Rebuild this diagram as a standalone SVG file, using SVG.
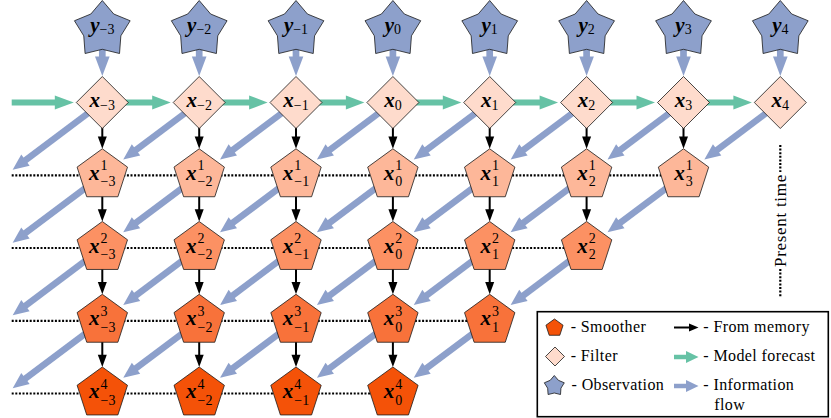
<svg xmlns="http://www.w3.org/2000/svg" width="831" height="418" viewBox="0 0 831 418">
<style>
.m{font-family:"Liberation Serif",serif;font-weight:bold;font-style:italic;font-size:21px;fill:#000}
.s{font-family:"Liberation Serif",serif;font-weight:normal;font-style:normal;font-size:14px;fill:#000}
.lg{font-family:"Liberation Serif",serif;font-size:16px;letter-spacing:0.4px;fill:#000}
.pt{font-family:"Liberation Serif",serif;font-size:17px;letter-spacing:0.7px;fill:#000}
.star{fill:#8DA0CB;stroke:#1a1a1a;stroke-width:0.8}
.dia{fill:#FEDBCC;stroke:#1a1a1a;stroke-width:0.8}
.pen{stroke:#1a1a1a;stroke-width:0.8}
.p1{fill:#FDB799}.p2{fill:#FC9163}.p3{fill:#F8723A}.p4{fill:#F45208}
.dot{stroke:#000;stroke-width:2.2;stroke-dasharray:2 1.6;fill:none}
.bl{stroke:#8DA0CB;fill:none}
.bh{fill:#8DA0CB}
.gr{stroke:#66C2A5;fill:none}
.gh{fill:#66C2A5}
.k{stroke:#000;stroke-width:2;fill:none}
.kh{fill:#000}
</style>
<defs>
<polygon id="starS" points="0,-29.3 11.46,-15.78 27.87,-9.05 18.55,6.03 17.22,23.7 0,19.5 -17.22,23.7 -18.55,6.03 -27.87,-9.05 -11.46,-15.78"/>
<polygon id="diaS" points="0,-26 26,0 0,26 -26,0"/>
<polygon id="penS" points="0,-26.5 25.2,-8.19 15.58,21.44 -15.58,21.44 -25.2,-8.19"/>
<g id="aStar"><line class="bl" x1="0" y1="10" x2="0" y2="27.5" stroke-width="6.7"/><polygon class="bh" points="-7.3,26.7 7.3,26.7 0,46.2"/></g>
<g id="aGreen"><line class="gr" x1="0" y1="0" x2="51" y2="0" stroke-width="6"/><polygon class="gh" points="49.9,-7 49.9,7 68.4,0"/></g>
<g id="aDiag"><line class="bl" x1="0" y1="0" x2="-64.77" y2="48.65" stroke-width="6.5"/><polygon class="bh" points="-58.97,53.05 -67.37,41.85 -75.96,57.06"/></g>
<g id="aOff"><line class="bl" x1="0" y1="0" x2="-78.36" y2="58.86" stroke-width="6.5"/><polygon class="bh" points="-72.64,63.32 -81.04,52.12 -89.64,67.33"/></g>
<g id="aBlack"><line class="k" x1="0" y1="0" x2="0" y2="35"/><polygon class="kh" points="-4.5,34 4.5,34 0,46.3"/></g>
</defs>

<g id="connectors">
<g id="dotted">
<line class="dot" x1="11.7" y1="175.3" x2="683.5" y2="175.3"/>
<line class="dot" x1="11.7" y1="248" x2="586.6" y2="248"/>
<line class="dot" x1="11.7" y1="320.8" x2="489.7" y2="320.8"/>
<line class="dot" x1="11.7" y1="393.5" x2="392.9" y2="393.5"/>
<line class="dot" x1="780.3" y1="145" x2="780.3" y2="172"/>
<line class="dot" x1="780.3" y1="269" x2="780.3" y2="297"/>
</g>
<g id="obs-arrows">
<use href="#aStar" x="102.3" y="29.8"/><use href="#aStar" x="199.2" y="29.8"/><use href="#aStar" x="296" y="29.8"/><use href="#aStar" x="392.9" y="29.8"/>
<use href="#aStar" x="489.7" y="29.8"/><use href="#aStar" x="586.6" y="29.8"/><use href="#aStar" x="683.5" y="29.8"/><use href="#aStar" x="780.3" y="29.8"/>
</g>
<g id="forecast-arrows">
<line class="gr" x1="11.7" y1="102.5" x2="56" y2="102.5" stroke-width="6"/><polygon class="gh" points="54.8,95.5 54.8,109.5 73.8,102.5"/>
<use href="#aGreen" x="102.3" y="102.5"/><use href="#aGreen" x="199.2" y="102.5"/><use href="#aGreen" x="296" y="102.5"/><use href="#aGreen" x="392.9" y="102.5"/>
<use href="#aGreen" x="489.7" y="102.5"/><use href="#aGreen" x="586.6" y="102.5"/><use href="#aGreen" x="683.5" y="102.5"/>
</g>
<g id="info-arrows">
<use href="#aOff" x="102.3" y="102.5"/><use href="#aDiag" x="199.2" y="102.5"/><use href="#aDiag" x="296" y="102.5"/><use href="#aDiag" x="392.9" y="102.5"/>
<use href="#aDiag" x="489.7" y="102.5"/><use href="#aDiag" x="586.6" y="102.5"/><use href="#aDiag" x="683.5" y="102.5"/><use href="#aDiag" x="780.3" y="102.5"/>
<use href="#aOff" x="102.3" y="175.3"/><use href="#aDiag" x="199.2" y="175.3"/><use href="#aDiag" x="296" y="175.3"/><use href="#aDiag" x="392.9" y="175.3"/>
<use href="#aDiag" x="489.7" y="175.3"/><use href="#aDiag" x="586.6" y="175.3"/><use href="#aDiag" x="683.5" y="175.3"/>
<use href="#aOff" x="102.3" y="248"/><use href="#aDiag" x="199.2" y="248"/><use href="#aDiag" x="296" y="248"/><use href="#aDiag" x="392.9" y="248"/>
<use href="#aDiag" x="489.7" y="248"/><use href="#aDiag" x="586.6" y="248"/>
<use href="#aOff" x="102.3" y="320.8"/><use href="#aDiag" x="199.2" y="320.8"/><use href="#aDiag" x="296" y="320.8"/><use href="#aDiag" x="392.9" y="320.8"/>
<use href="#aDiag" x="489.7" y="320.8"/>
</g>
<g id="memory-arrows">
<use href="#aBlack" x="102.3" y="102.5"/><use href="#aBlack" x="199.2" y="102.5"/><use href="#aBlack" x="296" y="102.5"/><use href="#aBlack" x="392.9" y="102.5"/>
<use href="#aBlack" x="489.7" y="102.5"/><use href="#aBlack" x="586.6" y="102.5"/><use href="#aBlack" x="683.5" y="102.5"/>
<use href="#aBlack" x="102.3" y="175.3"/><use href="#aBlack" x="199.2" y="175.3"/><use href="#aBlack" x="296" y="175.3"/><use href="#aBlack" x="392.9" y="175.3"/>
<use href="#aBlack" x="489.7" y="175.3"/><use href="#aBlack" x="586.6" y="175.3"/>
<use href="#aBlack" x="102.3" y="248"/><use href="#aBlack" x="199.2" y="248"/><use href="#aBlack" x="296" y="248"/><use href="#aBlack" x="392.9" y="248"/>
<use href="#aBlack" x="489.7" y="248"/>
<use href="#aBlack" x="102.3" y="320.8"/><use href="#aBlack" x="199.2" y="320.8"/><use href="#aBlack" x="296" y="320.8"/><use href="#aBlack" x="392.9" y="320.8"/>
</g>
</g>

<g id="present-time"><text class="pt" transform="translate(786,220.5) rotate(-90)" text-anchor="middle">Present time</text></g>

<!-- observations -->
<g id="y_m3" transform="translate(102.3,29.8)"><use href="#starS" class="star"/><text class="m" y="2" text-anchor="middle">y<tspan class="s" dy="2.5">−3</tspan></text></g>
<g id="y_m2" transform="translate(199.2,29.8)"><use href="#starS" class="star"/><text class="m" y="2" text-anchor="middle">y<tspan class="s" dy="2.5">−2</tspan></text></g>
<g id="y_m1" transform="translate(296,29.8)"><use href="#starS" class="star"/><text class="m" y="2" text-anchor="middle">y<tspan class="s" dy="2.5">−1</tspan></text></g>
<g id="y_0" transform="translate(392.9,29.8)"><use href="#starS" class="star"/><text class="m" y="2" text-anchor="middle">y<tspan class="s" dy="2.5">0</tspan></text></g>
<g id="y_1" transform="translate(489.7,29.8)"><use href="#starS" class="star"/><text class="m" y="2" text-anchor="middle">y<tspan class="s" dy="2.5">1</tspan></text></g>
<g id="y_2" transform="translate(586.6,29.8)"><use href="#starS" class="star"/><text class="m" y="2" text-anchor="middle">y<tspan class="s" dy="2.5">2</tspan></text></g>
<g id="y_3" transform="translate(683.5,29.8)"><use href="#starS" class="star"/><text class="m" y="2" text-anchor="middle">y<tspan class="s" dy="2.5">3</tspan></text></g>
<g id="y_4" transform="translate(780.3,29.8)"><use href="#starS" class="star"/><text class="m" y="2" text-anchor="middle">y<tspan class="s" dy="2.5">4</tspan></text></g>

<!-- filter -->
<g id="x_m3" transform="translate(102.3,102.5)"><use href="#diaS" class="dia"/><text class="m" y="4.5" text-anchor="middle">x<tspan class="s" dy="3">−3</tspan></text></g>
<g id="x_m2" transform="translate(199.2,102.5)"><use href="#diaS" class="dia"/><text class="m" y="4.5" text-anchor="middle">x<tspan class="s" dy="3">−2</tspan></text></g>
<g id="x_m1" transform="translate(296,102.5)"><use href="#diaS" class="dia"/><text class="m" y="4.5" text-anchor="middle">x<tspan class="s" dy="3">−1</tspan></text></g>
<g id="x_0" transform="translate(392.9,102.5)"><use href="#diaS" class="dia"/><text class="m" y="4.5" text-anchor="middle">x<tspan class="s" dy="3">0</tspan></text></g>
<g id="x_1" transform="translate(489.7,102.5)"><use href="#diaS" class="dia"/><text class="m" y="4.5" text-anchor="middle">x<tspan class="s" dy="3">1</tspan></text></g>
<g id="x_2" transform="translate(586.6,102.5)"><use href="#diaS" class="dia"/><text class="m" y="4.5" text-anchor="middle">x<tspan class="s" dy="3">2</tspan></text></g>
<g id="x_3" transform="translate(683.5,102.5)"><use href="#diaS" class="dia"/><text class="m" y="4.5" text-anchor="middle">x<tspan class="s" dy="3">3</tspan></text></g>
<g id="x_4" transform="translate(780.3,102.5)"><use href="#diaS" class="dia"/><text class="m" y="4.5" text-anchor="middle">x<tspan class="s" dy="3">4</tspan></text></g>

<!-- smoother iteration 1 -->
<g id="x1_m3" transform="translate(102.3,175.3)"><use href="#penS" class="pen p1"/><text class="m" x="-2.7" y="4.5" text-anchor="end">x</text><text class="s" x="-1.7" y="-5">1</text><text class="s" x="-1.7" y="11">−3</text></g>
<g id="x1_m2" transform="translate(199.2,175.3)"><use href="#penS" class="pen p1"/><text class="m" x="-2.7" y="4.5" text-anchor="end">x</text><text class="s" x="-1.7" y="-5">1</text><text class="s" x="-1.7" y="11">−2</text></g>
<g id="x1_m1" transform="translate(296,175.3)"><use href="#penS" class="pen p1"/><text class="m" x="-2.7" y="4.5" text-anchor="end">x</text><text class="s" x="-1.7" y="-5">1</text><text class="s" x="-1.7" y="11">−1</text></g>
<g id="x1_0" transform="translate(392.9,175.3)"><use href="#penS" class="pen p1"/><text class="m" x="1.25" y="4.5" text-anchor="end">x</text><text class="s" x="2.25" y="-5">1</text><text class="s" x="2.25" y="11">0</text></g>
<g id="x1_1" transform="translate(489.7,175.3)"><use href="#penS" class="pen p1"/><text class="m" x="1.25" y="4.5" text-anchor="end">x</text><text class="s" x="2.25" y="-5">1</text><text class="s" x="2.25" y="11">1</text></g>
<g id="x1_2" transform="translate(586.6,175.3)"><use href="#penS" class="pen p1"/><text class="m" x="1.25" y="4.5" text-anchor="end">x</text><text class="s" x="2.25" y="-5">1</text><text class="s" x="2.25" y="11">2</text></g>
<g id="x1_3" transform="translate(683.5,175.3)"><use href="#penS" class="pen p1"/><text class="m" x="1.25" y="4.5" text-anchor="end">x</text><text class="s" x="2.25" y="-5">1</text><text class="s" x="2.25" y="11">3</text></g>

<!-- smoother iteration 2 -->
<g id="x2_m3" transform="translate(102.3,248)"><use href="#penS" class="pen p2"/><text class="m" x="-2.7" y="4.5" text-anchor="end">x</text><text class="s" x="-1.7" y="-5">2</text><text class="s" x="-1.7" y="11">−3</text></g>
<g id="x2_m2" transform="translate(199.2,248)"><use href="#penS" class="pen p2"/><text class="m" x="-2.7" y="4.5" text-anchor="end">x</text><text class="s" x="-1.7" y="-5">2</text><text class="s" x="-1.7" y="11">−2</text></g>
<g id="x2_m1" transform="translate(296,248)"><use href="#penS" class="pen p2"/><text class="m" x="-2.7" y="4.5" text-anchor="end">x</text><text class="s" x="-1.7" y="-5">2</text><text class="s" x="-1.7" y="11">−1</text></g>
<g id="x2_0" transform="translate(392.9,248)"><use href="#penS" class="pen p2"/><text class="m" x="1.25" y="4.5" text-anchor="end">x</text><text class="s" x="2.25" y="-5">2</text><text class="s" x="2.25" y="11">0</text></g>
<g id="x2_1" transform="translate(489.7,248)"><use href="#penS" class="pen p2"/><text class="m" x="1.25" y="4.5" text-anchor="end">x</text><text class="s" x="2.25" y="-5">2</text><text class="s" x="2.25" y="11">1</text></g>
<g id="x2_2" transform="translate(586.6,248)"><use href="#penS" class="pen p2"/><text class="m" x="1.25" y="4.5" text-anchor="end">x</text><text class="s" x="2.25" y="-5">2</text><text class="s" x="2.25" y="11">2</text></g>

<!-- smoother iteration 3 -->
<g id="x3_m3" transform="translate(102.3,320.8)"><use href="#penS" class="pen p3"/><text class="m" x="-2.7" y="4.5" text-anchor="end">x</text><text class="s" x="-1.7" y="-5">3</text><text class="s" x="-1.7" y="11">−3</text></g>
<g id="x3_m2" transform="translate(199.2,320.8)"><use href="#penS" class="pen p3"/><text class="m" x="-2.7" y="4.5" text-anchor="end">x</text><text class="s" x="-1.7" y="-5">3</text><text class="s" x="-1.7" y="11">−2</text></g>
<g id="x3_m1" transform="translate(296,320.8)"><use href="#penS" class="pen p3"/><text class="m" x="-2.7" y="4.5" text-anchor="end">x</text><text class="s" x="-1.7" y="-5">3</text><text class="s" x="-1.7" y="11">−1</text></g>
<g id="x3_0" transform="translate(392.9,320.8)"><use href="#penS" class="pen p3"/><text class="m" x="1.25" y="4.5" text-anchor="end">x</text><text class="s" x="2.25" y="-5">3</text><text class="s" x="2.25" y="11">0</text></g>
<g id="x3_1" transform="translate(489.7,320.8)"><use href="#penS" class="pen p3"/><text class="m" x="1.25" y="4.5" text-anchor="end">x</text><text class="s" x="2.25" y="-5">3</text><text class="s" x="2.25" y="11">1</text></g>

<!-- smoother iteration 4 -->
<g id="x4_m3" transform="translate(102.3,393.5)"><use href="#penS" class="pen p4"/><text class="m" x="-2.7" y="4.5" text-anchor="end">x</text><text class="s" x="-1.7" y="-5">4</text><text class="s" x="-1.7" y="11">−3</text></g>
<g id="x4_m2" transform="translate(199.2,393.5)"><use href="#penS" class="pen p4"/><text class="m" x="-2.7" y="4.5" text-anchor="end">x</text><text class="s" x="-1.7" y="-5">4</text><text class="s" x="-1.7" y="11">−2</text></g>
<g id="x4_m1" transform="translate(296,393.5)"><use href="#penS" class="pen p4"/><text class="m" x="-2.7" y="4.5" text-anchor="end">x</text><text class="s" x="-1.7" y="-5">4</text><text class="s" x="-1.7" y="11">−1</text></g>
<g id="x4_0" transform="translate(392.9,393.5)"><use href="#penS" class="pen p4"/><text class="m" x="1.25" y="4.5" text-anchor="end">x</text><text class="s" x="2.25" y="-5">4</text><text class="s" x="2.25" y="11">0</text></g>

<!-- legend -->
<g id="legend">
<rect x="537.3" y="311.7" width="291" height="105" fill="#fff" stroke="#000" stroke-width="1.6"/>
<polygon class="pen p4" points="554.5,319 563.06,325.22 559.79,335.28 549.21,335.28 545.94,325.22"/>
<polygon class="dia" points="555,347 564.5,356.5 555,366 545.5,356.5"/>
<polygon class="star" points="554.3,375.5 558.4,380.3 564.3,382.8 560.95,388.2 560.5,394.5 554.3,393 548.1,394.5 547.65,388.2 544.3,382.8 550.2,380.3"/>
<line class="k" x1="674" y1="327.5" x2="690" y2="327.5"/><polygon class="kh" points="689,323.5 689,331.5 698.5,327.5"/>
<line class="gr" x1="674" y1="357" x2="687" y2="357" stroke-width="4.5"/><polygon class="gh" points="686,351 686,363 698.5,357"/>
<line class="bl" x1="674" y1="386" x2="687" y2="386" stroke-width="4.5"/><polygon class="bh" points="686,380 686,392 698.5,386"/>
<text class="lg" x="570.7" y="332">- Smoother</text>
<text class="lg" x="570.7" y="361">- Filter</text>
<text class="lg" x="571.5" y="389.8">- Observation</text>
<text class="lg" x="703.3" y="332">- From memory</text>
<text class="lg" x="703.3" y="361">- Model forecast</text>
<text class="lg" x="703.3" y="389.8">- Information</text>
<text class="lg" x="714.3" y="409.5">flow</text>
</g>
</svg>
